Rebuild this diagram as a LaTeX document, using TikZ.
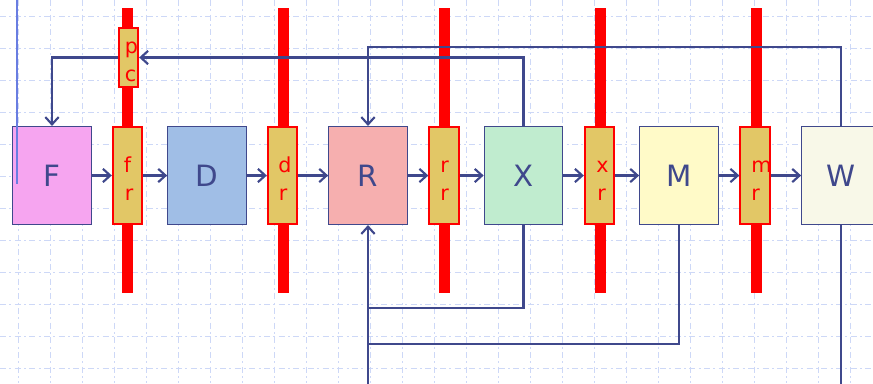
\documentclass[tikz,border=0pt]{standalone}
\usepackage{fontspec}
\setmainfont{DejaVu Sans}
\usetikzlibrary{arrows.meta,calc}
\definecolor{navy}{RGB}{63,72,140}
\definecolor{gold}{RGB}{226,199,102}
\definecolor{gridc}{RGB}{205,216,247}
\definecolor{leftblue}{RGB}{105,125,225}
\definecolor{fF}{RGB}{246,165,240}
\definecolor{fD}{RGB}{160,190,230}
\definecolor{fR}{RGB}{246,175,175}
\definecolor{fX}{RGB}{192,236,207}
\definecolor{fM}{RGB}{255,250,200}
\definecolor{fW}{RGB}{248,248,232}
\tikzset{
  gridline/.style={draw=gridc, line width=0.6pt, dash pattern=on 4.5pt off 2.5pt on 1.5pt off 2.5pt},
  stage/.style={draw=navy, line width=0.8pt, minimum width=59pt, minimum height=73.5pt, inner sep=0pt,
    text=navy, font=\fontsize{22}{26}\selectfont},
  reg/.style={draw=red, line width=1.5pt, fill=gold, minimum width=22pt, minimum height=73pt, inner sep=0pt},
  pcreg/.style={draw=red, line width=1.5pt, fill=gold, minimum width=14.5pt, minimum height=44.5pt, inner sep=0pt},
  regtxt/.style={anchor=base west, inner sep=0pt, text=red, font=\fontsize{15.5}{18}\selectfont},
  redbar/.style={fill=red},
  wire/.style={draw=navy, line width=1.9pt},
  conn/.style={wire, -{Straight Barb[length=5.5pt,width=10pt,line width=1.6pt]}},
}
\begin{document}
\begin{tikzpicture}[x=0.75pt,y=-0.75pt]
\useasboundingbox (0,0) rectangle (873,383);
\clip (0,0) rectangle (873,383);
% background grid
\foreach \i in {0,...,26} \draw[gridline] ({18+32*\i},0) -- ({18+32*\i},383);
\foreach \j in {0,...,11} \draw[gridline] (0,{16+32*\j}) -- (873,{16+32*\j});
% red bars
\foreach \bx in {127,283,444,600,756} \fill[redbar] ({\bx-5.5},8) rectangle ({\bx+5.5},293);
% stages
\node[stage, fill=fF] (F) at (52,175.5) {F};
\node[stage, fill=fD] (D) at (207,175.5) {D};
\node[stage, fill=fR] (R) at (368,175.5) {R};
\node[stage, fill=fX] (X) at (523.5,175.5) {X};
\node[stage, fill=fM] (M) at (679,175.5) {M};
\node[stage, fill=fW] (W) at (841,175.5) {W};
% registers
\node[reg] (fr) at (127.5,175.5) {};
\node[reg] (dr) at (282.5,175.5) {};
\node[reg] (rr) at (444,175.5) {};
\node[reg] (xr) at (599.5,175.5) {};
\node[reg] (mr) at (755,175.5) {};
\node[pcreg] (pc) at (128.5,57.5) {};
% register texts
\node[regtxt] (fr1) at (123.5,172) {f};
\node[regtxt] (fr2) at (124.5,200) {r};
\node[regtxt] (dr1) at (278,172) {d};
\node[regtxt] (dr2) at (278.5,200) {r};
\node[regtxt] (rr1) at (440,172) {r};
\node[regtxt] (rr2) at (440,200) {r};
\node[regtxt] (xr1) at (596,172) {x};
\node[regtxt] (xr2) at (597,200) {r};
\node[regtxt] (mr1) at (751,172) {m};
\node[regtxt] (mr2) at (751,200) {r};
\node[regtxt] (pc1) at (124.5,53.5) {p};
\node[regtxt] (pc2) at (124.5,81.5) {c};
% left blue line
\coordinate (lb1) at (17,0);
\coordinate (lb2) at (17,184);
\draw[leftblue, line width=1.5pt] (lb1) -- (lb2);
% pipeline arrows
\draw[conn] (F) -- (fr);
\draw[conn] (fr) -- (D);
\draw[conn] (D) -- (dr);
\draw[conn] (dr) -- (R);
\draw[conn] (R) -- (rr);
\draw[conn] (rr) -- (X);
\draw[conn] (X) -- (xr);
\draw[conn] (xr) -- (M);
\draw[conn] (M) -- (mr);
\draw[conn] (mr) -- (W);
% feedback paths
\draw[conn] (X.north) |- (pc.east);
\draw[conn] (pc.west) -| (F.north);
\coordinate (wtop) at (841,47);
\coordinate (rtop) at (368,47);
\draw[conn] (W.north) -- (wtop) -- (rtop) -- (R.north);
\coordinate (wbot) at (841,385);
\coordinate (rbot) at (368,385);
\draw[conn] (W.south) -- (wbot) -- (rbot) -- (R.south);
\coordinate (j1) at (368,308);
\coordinate (j2) at (368,344);
\draw[wire] (X.south) |- (j1);
\draw[wire] (M.south) |- (j2);
\end{tikzpicture}
\end{document}
